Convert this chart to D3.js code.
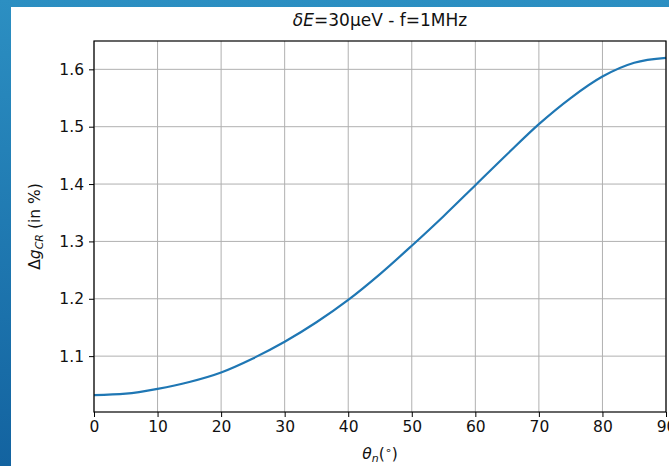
<!DOCTYPE html>
<html><head><meta charset="utf-8">
<script src="https://cdn.jsdelivr.net/npm/d3@7"></script>
<style>html,body{margin:0;padding:0;background:#fff;overflow:hidden}</style>
</head><body>
<script>
const thetaDeg = [0,5,10,15,20,25,30,35,40,45,50,55,60,65,70,75,80,85,90];
const deltaG  = [1.032,1.0345,1.043,1.055,1.0716,1.096,1.125,1.159,1.198,1.243,1.2925,1.344,1.398,1.452,1.5045,1.550,1.5875,1.6115,1.620];
const xTicks = [0,10,20,30,40,50,60,70,80,90];
const yTicks = [1.1,1.2,1.3,1.4,1.5,1.6];

const W = 669, H = 466;
const svg = d3.select("body").append("svg").attr("width", W).attr("height", H);
const defs = svg.append("defs");
const g1 = defs.append("linearGradient").attr("id","bgv").attr("x1",0).attr("y1",0).attr("x2",0).attr("y2",1);
g1.append("stop").attr("offset","0%").attr("stop-color","#2c8fc2");
g1.append("stop").attr("offset","100%").attr("stop-color","#1363a0");
svg.append("rect").attr("x",0).attr("y",0).attr("width",W).attr("height",H).attr("fill","url(#bgv)");
svg.append("rect").attr("x",11).attr("y",7).attr("width",W-11).attr("height",H-7).attr("fill","#fff");

const L = 94, R = 666, T = 41, B = 412;
const x = d3.scaleLinear().domain([0,90]).range([L,R]);
const yMin = d3.min(deltaG), yMax = d3.max(deltaG), pad = (yMax-yMin)*0.05;
const y = d3.scaleLinear().domain([yMin-pad, yMax+pad]).range([B,T]);

const font = "DejaVu Sans, sans-serif";
// grid
svg.append("g").selectAll("line.gx").data(xTicks).join("line")
  .attr("x1",d=>x(d)).attr("x2",d=>x(d)).attr("y1",T).attr("y2",B)
  .attr("stroke","#b0b0b0").attr("stroke-width",1);
svg.append("g").selectAll("line.gy").data(yTicks).join("line")
  .attr("x1",L).attr("x2",R).attr("y1",d=>y(d)).attr("y2",d=>y(d))
  .attr("stroke","#b0b0b0").attr("stroke-width",1);

// line
const line = d3.line().x((d,i)=>x(thetaDeg[i])).y(d=>y(d)).curve(d3.curveMonotoneX);
svg.append("path").datum(deltaG).attr("d",line).attr("fill","none")
  .attr("stroke","#1f77b4").attr("stroke-width",2.2);

// axes
const xAxis = svg.append("g").attr("transform",`translate(0,${B})`)
  .call(d3.axisBottom(x).tickValues(xTicks).tickSize(5).tickSizeOuter(0).tickPadding(4));
const yAxis = svg.append("g").attr("transform",`translate(${L},0)`)
  .call(d3.axisLeft(y).tickValues(yTicks).tickFormat(d3.format(".1f")).tickSize(5).tickSizeOuter(0).tickPadding(5));
[xAxis,yAxis].forEach(a=>{
  a.select(".domain").remove();
  a.selectAll("line").attr("stroke","#000").attr("stroke-width",1);
  a.selectAll("text").attr("font-family",font).attr("font-size",15.5).attr("fill","#111");
});
// frame
svg.append("rect").attr("x",L).attr("y",T).attr("width",R-L).attr("height",B-T)
  .attr("fill","none").attr("stroke","#000").attr("stroke-width",1.2);

// title
const title = svg.append("text").attr("x",(L+R)/2).attr("y",26).attr("text-anchor","middle")
  .attr("font-family",font).attr("font-size",17).attr("fill","#111");
title.append("tspan").attr("font-style","italic").text("δE");
title.append("tspan").text("=30µeV - f=1MHz");

// x label
const xl = svg.append("text").attr("x",(L+R)/2).attr("y",459).attr("text-anchor","middle")
  .attr("font-family",font).attr("font-size",15.5).attr("fill","#111");
xl.append("tspan").attr("font-style","italic").text("θ");
xl.append("tspan").attr("font-style","italic").attr("font-size",11).attr("dy",3).text("n");
xl.append("tspan").attr("dy",-3).text("(");
xl.append("tspan").attr("font-size",11).attr("dy",-5).text("∘");
xl.append("tspan").attr("dy",5).text(")");

// y label
const yl = svg.append("text").attr("transform",`translate(40,${(T+B)/2}) rotate(-90)`)
  .attr("text-anchor","middle").attr("font-family",font).attr("font-size",15.5).attr("fill","#111");
yl.append("tspan").text("Δ");
yl.append("tspan").attr("font-style","italic").text("g");
yl.append("tspan").attr("font-style","italic").attr("font-size",11).attr("dy",3).text("CR");
yl.append("tspan").attr("dy",-3).text(" (in %)");
</script>
</body></html>
